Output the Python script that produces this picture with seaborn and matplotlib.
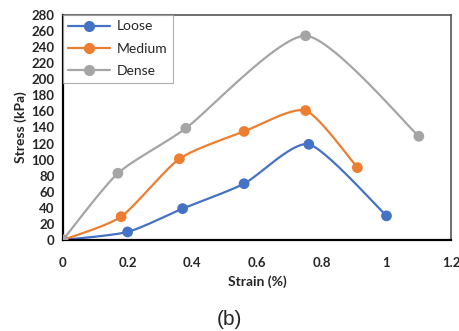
import numpy as np
import pandas as pd
import seaborn as sns
import matplotlib.pyplot as plt
from matplotlib.lines import Line2D

# valores
loose_x = [0, 0.2, 0.37, 0.56, 0.76, 1.0]
loose_y = [0, 10, 39, 70, 119, 30]
medium_x = [0, 0.18, 0.36, 0.56, 0.75, 0.91]
medium_y = [0, 29, 101, 135, 161, 90]
dense_x = [0, 0.17, 0.38, 0.75, 1.1]
dense_y = [0, 83, 139, 254, 129]

series = ['Loose', 'Medium', 'Dense']
cores = {'Loose': '#4472C4', 'Medium': '#ED7D31', 'Dense': '#A5A5A5'}
x_ticks = [0, 0.2, 0.4, 0.6, 0.8, 1, 1.2]
x_tick_labels = ['0', '0.2', '0.4', '0.6', '0.8', '1', '1.2']
y_ticks = list(range(0, 281, 20))


def suavizar(xs, ys, n=30, t=0.5):
    # curva tipo Catmull-Rom, como a linha suavizada do Excel
    p = np.column_stack([xs, ys]).astype(float)
    p = np.vstack([p[0], p, p[-1]])
    out = []
    for i in range(1, len(p) - 2):
        p0, p1, p2, p3 = p[i - 1], p[i], p[i + 1], p[i + 2]
        m1 = t * (p2 - p0)
        m2 = t * (p3 - p1)
        s = np.linspace(0, 1, n)[:, None]
        h00 = 2 * s**3 - 3 * s**2 + 1
        h10 = s**3 - 2 * s**2 + s
        h01 = -2 * s**3 + 3 * s**2
        h11 = s**3 - s**2
        out.append(h00 * p1 + h10 * m1 / 1.5 + h01 * p2 + h11 * m2 / 1.5)
    c = np.vstack(out)
    return c[:, 0], c[:, 1]


dados = {'Loose': (loose_x, loose_y), 'Medium': (medium_x, medium_y), 'Dense': (dense_x, dense_y)}

sns.set_style('white')
plt.rcParams['font.family'] = ['Lato', 'DejaVu Sans']

fig = plt.figure(figsize=(4.59, 3.31), dpi=100)
ax = fig.add_axes([0.137, 0.275, 0.846, 0.68])

for nome in series:
    xs, ys = dados[nome]
    cx, cy = suavizar(xs, ys)
    curva = pd.DataFrame({'x': cx, 'y': cy})
    sns.lineplot(data=curva, x='x', y='y', sort=False, color=cores[nome], lw=1.6, ax=ax)
    pts = pd.DataFrame({'x': xs, 'y': ys})
    sns.scatterplot(data=pts, x='x', y='y', color=cores[nome], s=60, edgecolor='none', zorder=3, ax=ax)

ax.set_xlim(0, 1.2)
ax.set_ylim(0, 280)
ax.set_xticks(x_ticks)
ax.set_xticklabels(x_tick_labels)
ax.set_yticks(y_ticks)
ax.tick_params(axis='both', direction='out', length=4, width=1.2, color='black',
               labelsize=9.5)
ax.tick_params(axis='y', pad=2)
ax.tick_params(axis='x', pad=8)
for lbl in ax.get_xticklabels() + ax.get_yticklabels():
    lbl.set_fontweight('bold')

for lado in ['left', 'bottom']:
    ax.spines[lado].set_color('black')
    ax.spines[lado].set_linewidth(1.6)
for lado in ['top', 'right']:
    ax.spines[lado].set_color('#555555')
    ax.spines[lado].set_linewidth(1.2)
    ax.spines[lado].set_visible(True)

ax.set_xlabel('Strain (%)', fontsize=10, fontweight='bold', labelpad=5)
ax.set_ylabel('Stress (kPa)', fontsize=10, fontweight='bold', labelpad=3)

handles = [Line2D([0], [0], color=cores[n], lw=1.6, marker='o', markersize=7) for n in series]
leg = ax.legend(handles, series, loc='upper left', bbox_to_anchor=(0.0, 1.0), fontsize=10,
                frameon=True, fancybox=False, edgecolor='#999999', borderaxespad=0.0,
                handlelength=3.0, handletextpad=0.5, labelspacing=0.75, borderpad=0.4)
leg.get_frame().set_linewidth(0.8)

fig.text(0.5, 0.005, '(b)', ha='center', va='bottom', fontsize=15,
         family=['Liberation Sans', 'DejaVu Sans'])

fig.savefig('out.png', dpi=100)
